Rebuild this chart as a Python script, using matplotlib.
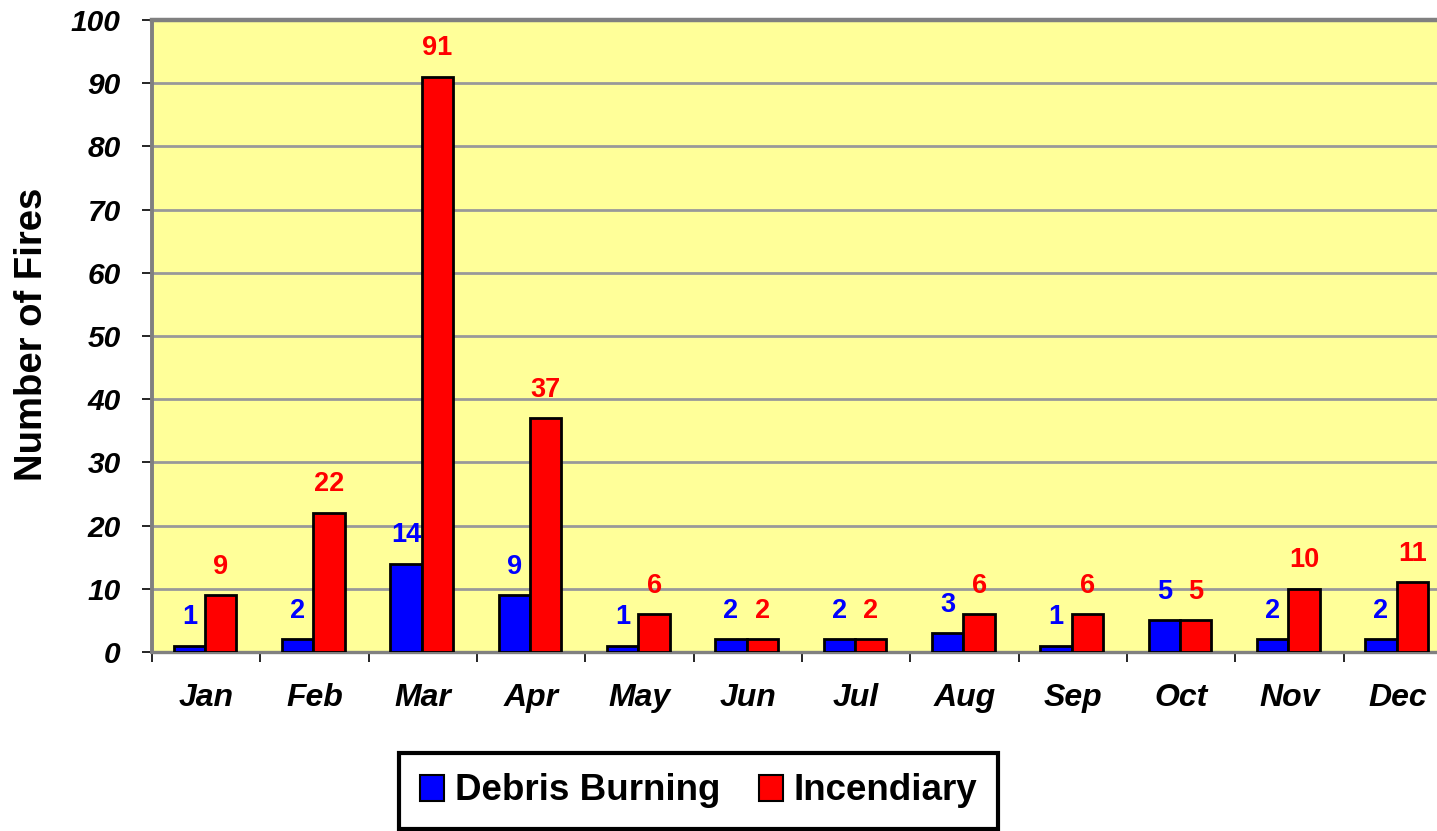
import matplotlib
matplotlib.use("Agg")
import matplotlib.pyplot as plt
import numpy as np
from matplotlib.patches import Patch

months = ["Jan", "Feb", "Mar", "Apr", "May", "Jun", "Jul", "Aug", "Sep", "Oct", "Nov", "Dec"]
debris = [1, 2, 14, 9, 1, 2, 2, 3, 1, 5, 2, 2]
incendiary = [9, 22, 91, 37, 6, 2, 2, 6, 6, 5, 10, 11]
yticks = [0, 10, 20, 30, 40, 50, 60, 70, 80, 90, 100]

plt.rcParams['font.family'] = ['Liberation Sans', 'DejaVu Sans']

W, H = 1437, 831
fig = plt.figure(figsize=(W / 100, H / 100), dpi=100)
ax = fig.add_axes([152 / W, (H - 652) / H, 1300 / W, 632 / H])
ax.set_facecolor('#FFFF99')

x = np.arange(len(months))
bw = 0.29
ax.bar(x - bw / 2 - 0.01, debris, width=bw, color='#0000FF', edgecolor='black', linewidth=2, zorder=3)
ax.bar(x + bw / 2 - 0.01, incendiary, width=bw, color='#FF0000', edgecolor='black', linewidth=2, zorder=3)

for xi, v in zip(x, debris):
    ax.annotate(str(v), (xi - bw / 2 - 0.01, v), xytext=(0, 15.5), textcoords='offset points',
                ha='center', va='baseline', color='#0000FF', fontsize=19.5, fontweight='bold', zorder=4)
for xi, v in zip(x, incendiary):
    ax.annotate(str(v), (xi + bw / 2 - 0.01, v), xytext=(0, 15.5), textcoords='offset points',
                ha='center', va='baseline', color='#FF0000', fontsize=19.5, fontweight='bold', zorder=4)

ax.set_xlim(-0.5, len(months) - 0.5)
ax.set_ylim(0, 100)
ax.set_yticks(yticks)
ax.set_yticklabels([str(t) for t in yticks], fontsize=21.5, fontweight='bold', fontstyle='italic')
ax.tick_params(axis='y', direction='out', length=7, width=1.2, color='black', pad=15.5)

ax.set_xticks(x)
ax.set_xticklabels(months, fontsize=23, fontweight='bold', fontstyle='italic')
ax.tick_params(axis='x', which='major', length=0, pad=22.5)
ax.set_xticks(np.arange(-0.5, len(months), 1.0), minor=True)
ax.tick_params(axis='x', which='minor', direction='out', length=7, width=1.2, color='black')

ax.grid(axis='y', color='#999999', linewidth=2, zorder=1)
ax.set_axisbelow(True)
for side in ['left', 'top', 'bottom', 'right']:
    ax.spines[side].set_color('#808080')
ax.spines['left'].set_linewidth(2.8)
ax.spines['top'].set_linewidth(3.2)
ax.spines['bottom'].set_linewidth(2.4)
ax.spines['right'].set_linewidth(2.4)

fig.text(32 / W, (H - 334) / H, 'Number of Fires', rotation=90, ha='center', va='center',
         fontsize=27.5, fontweight='bold')

handles = [Patch(facecolor='#0000FF', edgecolor='black', linewidth=1.5, label='Debris Burning'),
           Patch(facecolor='#FF0000', edgecolor='black', linewidth=1.5, label='Incendiary')]
leg = fig.legend(handles=handles, loc='center', bbox_to_anchor=(698.5 / W, (H - 791) / H), ncol=2,
                 frameon=True, fancybox=False, edgecolor='black', framealpha=1,
                 prop={'size': 26.5, 'weight': 'bold'}, handlelength=0.65, handleheight=0.72,
                 handletextpad=0.3, columnspacing=1.05, borderpad=0.57)
leg.get_frame().set_linewidth(3)

fig.savefig('out.png', dpi=100)
